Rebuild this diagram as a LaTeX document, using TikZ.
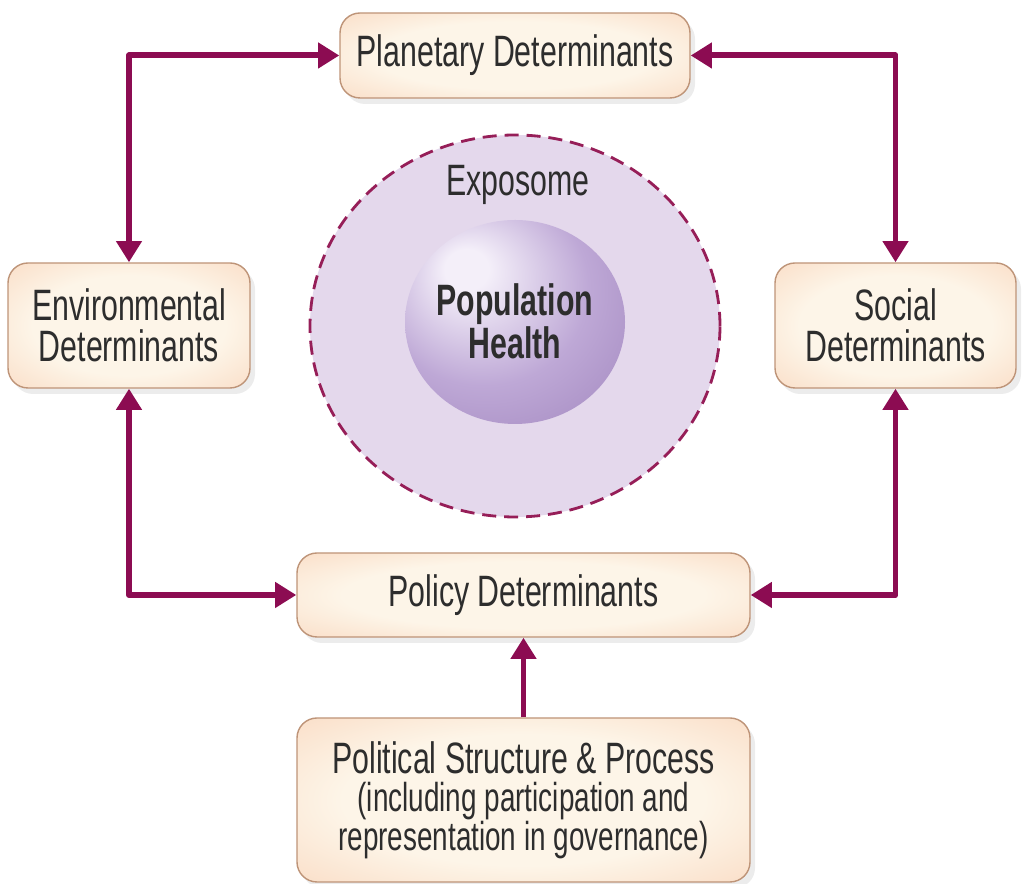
\documentclass[tikz,border=0pt]{standalone}
\usepackage{fontspec}
\setmainfont{Liberation Sans}[FakeStretch=0.69]
\usetikzlibrary{arrows.meta,shadows}

\definecolor{linkred}{RGB}{140,12,82}
\definecolor{boxin}{RGB}{253,245,232}
\definecolor{boxout}{RGB}{248,208,180}
\definecolor{boxrim}{RGB}{190,148,120}
\definecolor{expofill}{RGB}{228,216,236}
\definecolor{expoline}{RGB}{150,30,88}
\definecolor{sphhi}{RGB}{244,239,249}
\definecolor{sphmid}{RGB}{190,168,214}
\definecolor{sphout}{RGB}{156,128,186}
\definecolor{labeltext}{RGB}{45,45,45}

%% peach glow of the boxes, highlight on the sphere
\pgfdeclareradialshading{boxglow}{\pgfpoint{0bp}{0bp}}{color(0bp)=(boxin); color(20bp)=(boxin); color(46bp)=(boxout); color(72bp)=(boxout)}
\pgfdeclareradialshading{sphere}{\pgfpoint{-12bp}{14bp}}{color(0bp)=(sphhi); color(5bp)=(sphhi); color(24bp)=(sphmid); color(46bp)=(sphout); color(60bp)=(sphout!88!black)}

\begin{document}
\begin{tikzpicture}[
    detbox/.style={rectangle, rounded corners=0.4cm, draw=boxrim, line width=0.8pt,
      shade, shading=boxglow,
      drop shadow={shadow xshift=0.1cm, shadow yshift=-0.12cm, opacity=0.15},
      align=center, inner sep=0pt, text=labeltext, font=\fontsize{25}{23}\selectfont},
    link/.style={draw=linkred, line width=3.4pt, line join=round,
      >={Triangle[length=12pt,width=14pt]}},
    plain/.style={text=labeltext, align=center, inner sep=0pt, font=\fontsize{25}{21}\selectfont},
  ]
  \useasboundingbox (0,0) rectangle (20.58,17.68);

  %% exposome and population health
  \draw[fill=expofill, draw=expoline, line width=1.6pt, dash pattern=on 8pt off 4.5pt]
    (10.30,11.16) ellipse [x radius=4.1, y radius=3.82];
  \shade[shading=sphere] (10.30,11.24) ellipse [x radius=2.2, y radius=2.04];
  \node[plain] (expo) at (10.36,13.98) {Exposome};
  \node[plain, font=\fontsize{25}{21}\bfseries] (pophealth) at (10.30,11.26) {Population\\Health};

  %% determinants
  \node[detbox, minimum width=7.0cm, minimum height=1.7cm] (plan) at (10.30,16.57) {Planetary Determinants};
  \node[detbox, minimum width=4.84cm, minimum height=2.5cm] (env) at (2.58,11.17) {Environmental\\Determinants};
  \node[detbox, minimum width=4.82cm, minimum height=2.5cm] (soc) at (17.91,11.17) {Social\\Determinants};
  \node[detbox, minimum width=9.06cm, minimum height=1.68cm] (pol) at (10.47,5.78) {Policy Determinants};
  \node[detbox, minimum width=9.06cm, minimum height=3.28cm] (polit) at (10.47,1.68)
    {Political Structure \& Process\\[-1pt]
     {\fontsize{23}{21}\selectfont (including participation and}\\[-1pt]
     {\fontsize{23}{21}\selectfont representation in governance)}};

  %% arrows
  \draw[link, <->] (env.north) |- (plan.west);
  \draw[link, <->] (soc.north) |- (plan.east);
  \draw[link, <->] (env.south) |- (pol.west);
  \draw[link, <->] (soc.south) |- (pol.east);
  \draw[link, ->] (polit.north) -- (pol.south);

\end{tikzpicture}
\end{document}
